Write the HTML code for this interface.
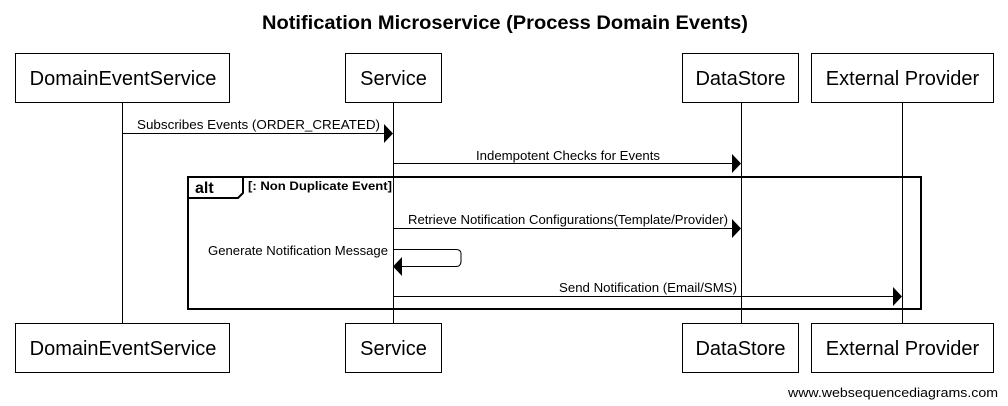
<!DOCTYPE html>
<html><head><meta charset="utf-8"><style>
html,body{margin:0;padding:0;background:#fff;}
svg{display:block;font-family:"Liberation Sans",Arial,sans-serif;}
</style></head><body>
<svg width="1008" height="406" viewBox="0 0 1008 406" xmlns="http://www.w3.org/2000/svg">
<text x="262" y="29" font-size="19" font-weight="bold" textLength="486" lengthAdjust="spacingAndGlyphs">Notification Microservice (Process Domain Events)</text>
<g stroke="#000" stroke-width="1" fill="none">
<line x1="122.5" y1="102" x2="122.5" y2="323"/>
<line x1="393.5" y1="102" x2="393.5" y2="323"/>
<line x1="741.5" y1="102" x2="741.5" y2="323"/>
<line x1="902.5" y1="102" x2="902.5" y2="323"/>
<rect x="15.5" y="53.5" width="214" height="49" fill="#fff"/>
<rect x="345.5" y="53.5" width="96" height="49" fill="#fff"/>
<rect x="682.5" y="53.5" width="116" height="49" fill="#fff"/>
<rect x="811.5" y="53.5" width="182" height="49" fill="#fff"/>
<rect x="15.5" y="323.5" width="214" height="49" fill="#fff"/>
<rect x="345.5" y="323.5" width="96" height="49" fill="#fff"/>
<rect x="682.5" y="323.5" width="116" height="49" fill="#fff"/>
<rect x="811.5" y="323.5" width="182" height="49" fill="#fff"/>
<rect x="188" y="177" width="733" height="132" stroke-width="2"/>
<path d="M188 198 H238 L243 193 V177" stroke-width="2"/>
<line x1="122" y1="133.5" x2="384" y2="133.5"/>
<line x1="393" y1="163.5" x2="732" y2="163.5"/>
<line x1="393" y1="228.5" x2="732" y2="228.5"/>
<path d="M393 249.5 H456 Q461 249.5 461 254 V261 Q461 266.5 456 266.5 H402"/>
<line x1="393" y1="296.5" x2="893" y2="296.5"/>
</g>
<g fill="#000">
<polygon points="384,124 393,133.5 384,143"/>
<polygon points="732,154 741,163.5 732,173"/>
<polygon points="732,219 741,228.5 732,238"/>
<polygon points="402,257 393,266.5 402,276"/>
<polygon points="893,287 902,296.5 893,306"/>
</g>
<g font-size="20" text-anchor="middle">
<text x="123" y="85">DomainEventService</text>
<text x="393.5" y="85">Service</text>
<text x="740.5" y="85">DataStore</text>
<text x="902.5" y="85">External Provider</text>
<text x="123" y="355">DomainEventService</text>
<text x="393.5" y="355">Service</text>
<text x="740.5" y="355">DataStore</text>
<text x="902.5" y="355">External Provider</text>
</g>
<g font-size="13" lengthAdjust="spacingAndGlyphs">
<text x="137" y="129" textLength="243" lengthAdjust="spacingAndGlyphs">Subscribes Events (ORDER_CREATED)</text>
<text x="476" y="160" textLength="184" lengthAdjust="spacingAndGlyphs">Indempotent Checks for Events</text>
<text x="408" y="224" textLength="320" lengthAdjust="spacingAndGlyphs">Retrieve Notification Configurations(Template/Provider)</text>
<text x="208" y="255" textLength="180" lengthAdjust="spacingAndGlyphs">Generate Notification Message</text>
<text x="559" y="292" textLength="178" lengthAdjust="spacingAndGlyphs">Send Notification (Email/SMS)</text>
<text x="788" y="397" textLength="210" lengthAdjust="spacingAndGlyphs">www.websequencediagrams.com</text>
</g>
<text x="195" y="193" font-size="16" font-weight="bold">alt</text>
<text x="248" y="190" font-size="12" font-weight="bold" textLength="144" lengthAdjust="spacingAndGlyphs">[: Non Duplicate Event]</text>
</svg>
</body></html>
